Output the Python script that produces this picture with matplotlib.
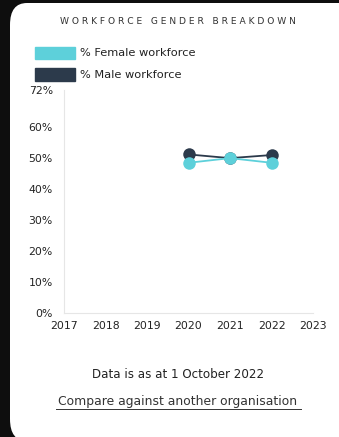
import matplotlib.pyplot as plt
from matplotlib.patches import FancyBboxPatch
from matplotlib.ticker import FixedLocator, FuncFormatter

years = [2020, 2021, 2022]
female_pct = [48.5, 50.0, 48.5]
male_pct = [51.2, 50.0, 51.0]
year_ticks = [2017, 2018, 2019, 2020, 2021, 2022, 2023]
pct_ticks = [0, 10, 20, 30, 40, 50, 60, 72]

FEMALE = '#5dd0da'
MALE = '#2c3a4b'
TEXT = '#222222'

plt.rcParams['font.family'] = ['DejaVu Sans']

W, H = 339, 437
fig = plt.figure(figsize=(W / 100, H / 100), dpi=100)
fig.patch.set_facecolor('#0e0e0e')

# white rounded card behind everything
card = FancyBboxPatch((10 / W, -4 / H), 360 / W, (H - 3 + 4) / H,
                      boxstyle='round,pad=0,rounding_size=0.05',
                      transform=fig.transFigure, facecolor='white',
                      edgecolor='none', zorder=-5)
fig.patches.append(card)

# axes box in pixel coordinates
left, right, top, bottom = 64, 313, 90, 313
ax = fig.add_axes([left / W, 1 - bottom / H, (right - left) / W, (bottom - top) / H])
ax.set_facecolor('none')

ax.plot(years, male_pct, color=MALE, lw=1.3, marker='o', ms=9,
        markeredgewidth=0, zorder=3)
ax.plot(years, female_pct, color=FEMALE, lw=1.3, marker='o', ms=9,
        markeredgewidth=0, zorder=4)

ax.set_xlim(2017, 2023)
ax.set_ylim(0, 72)
ax.xaxis.set_major_locator(FixedLocator(year_ticks))
ax.yaxis.set_major_locator(FixedLocator(pct_ticks))
ax.yaxis.set_major_formatter(FuncFormatter(lambda v, p: f'{v:.0f}%'))
ax.tick_params(length=0, labelsize=7.8, colors=TEXT, pad=8)
ax.tick_params(axis='x', pad=6)
for s in ['top', 'right']:
    ax.spines[s].set_visible(False)
for s in ['left', 'bottom']:
    ax.spines[s].set_color('#e6e6e6')
    ax.spines[s].set_linewidth(0.8)

# title with wide letter spacing
title = 'WORKFORCE GENDER BREAKDOWN'
spaced = '   '.join(' '.join(w) for w in title.split(' '))
fig.text(178 / W, 1 - 21 / H, spaced, ha='center', va='center',
         fontsize=6.6, color='#333333')

# legend
for i, (lab, col) in enumerate([('% Female workforce', FEMALE),
                                ('% Male workforce', MALE)]):
    y = 52.5 + i * 22
    fig.patches.append(plt.Rectangle((35 / W, 1 - (y + 6) / H), 40 / W, 12 / H,
                                     transform=fig.transFigure, color=col))
    fig.text(80 / W, 1 - y / H, lab, ha='left', va='center',
             fontsize=8.2, color=TEXT)

fig.text(178 / W, 1 - 375 / H, 'Data is as at 1 October 2022',
         ha='center', va='center', fontsize=8.6, color=TEXT)
fig.text(178 / W, 1 - 401 / H, 'Compare against another organisation',
         ha='center', va='center', fontsize=8.9, color='#333333')
fig.add_artist(plt.Line2D([56 / W, 301 / W], [1 - 409 / H, 1 - 409 / H],
                          transform=fig.transFigure, color='#333333', lw=0.7))

fig.savefig('out.png', dpi=100, facecolor=fig.get_facecolor())
